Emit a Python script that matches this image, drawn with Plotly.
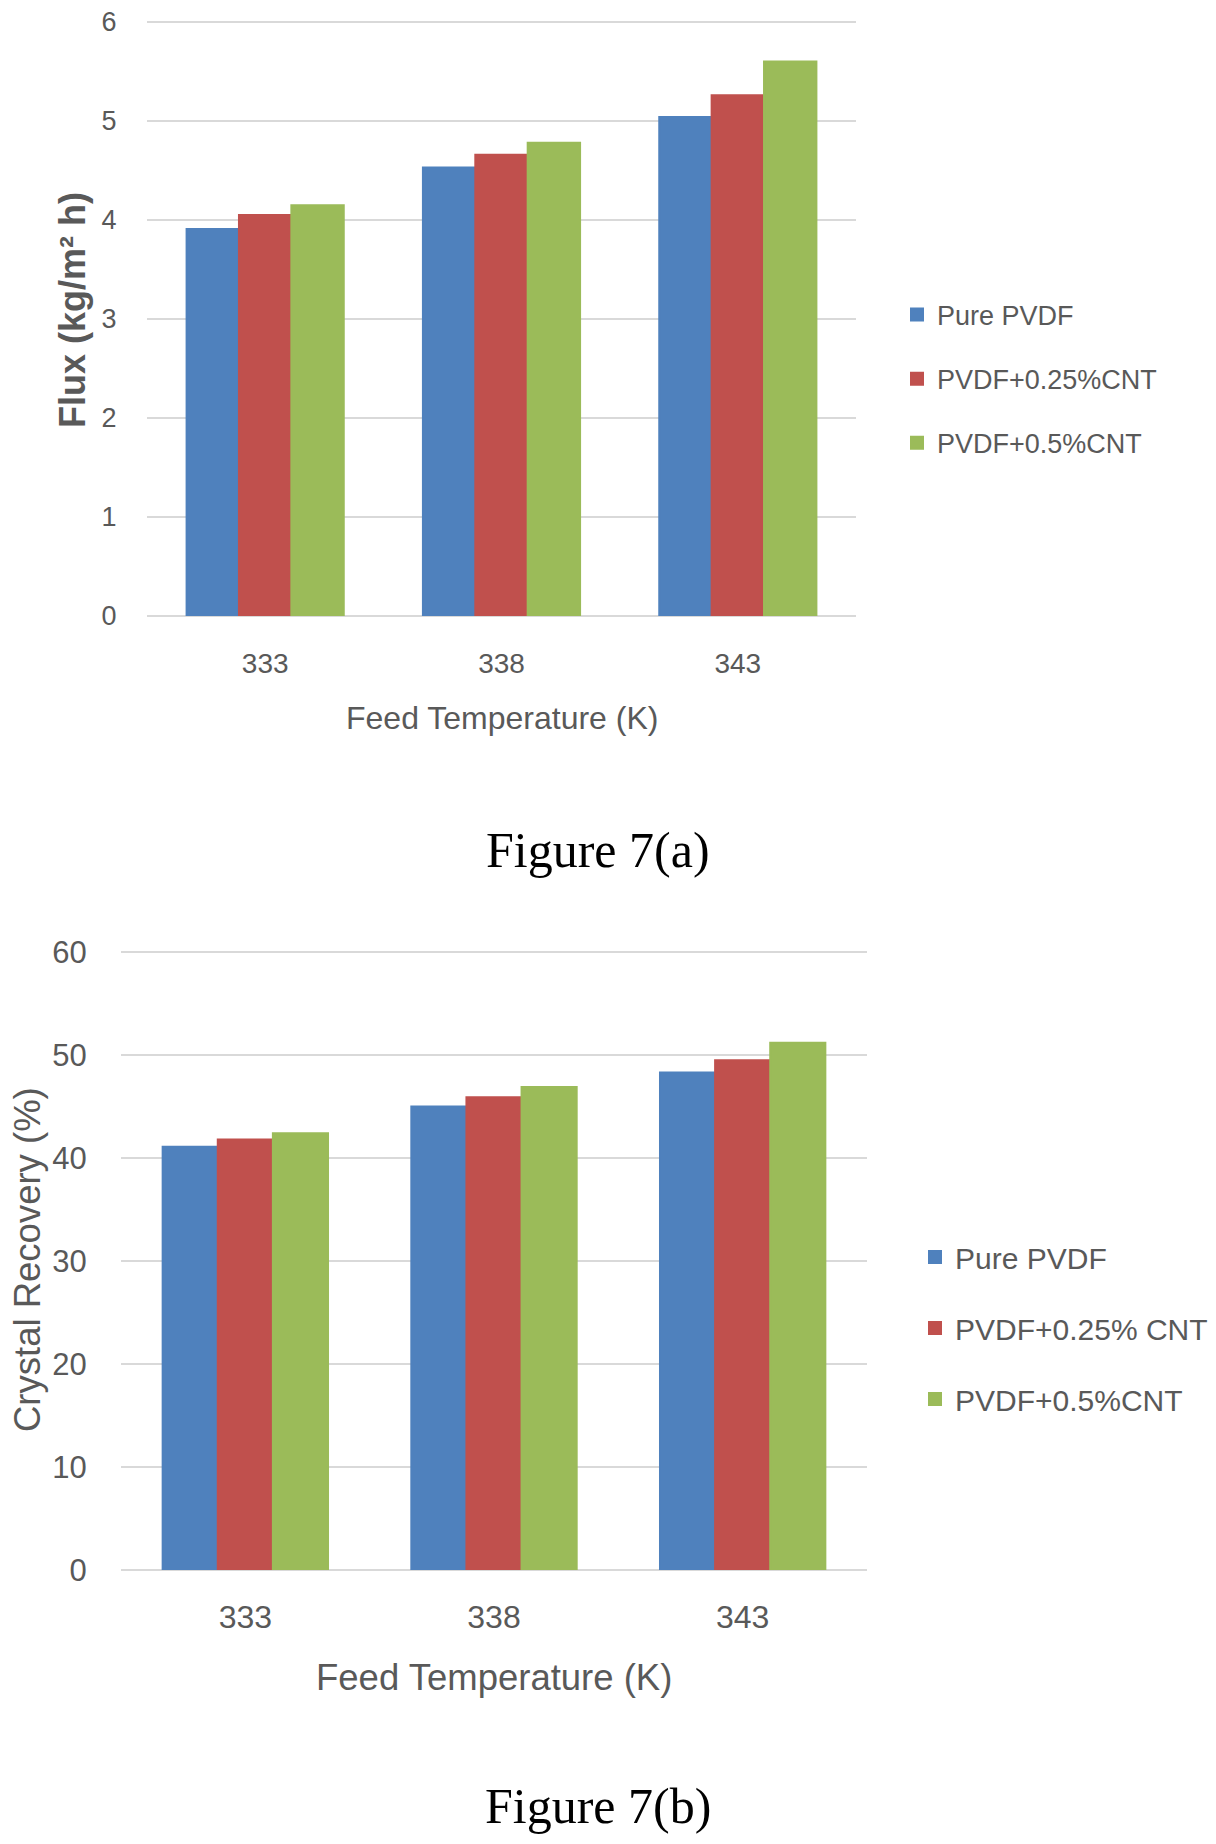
import plotly.graph_objects as go

# ---- data ----
temps = ["333", "338", "343"]
series_a = ["Pure PVDF", "PVDF+0.25%CNT", "PVDF+0.5%CNT"]
series_b = ["Pure PVDF", "PVDF+0.25% CNT", "PVDF+0.5%CNT"]
flux_pure = [3.91, 4.53, 5.04]
flux_025 = [4.05, 4.66, 5.26]
flux_05 = [4.15, 4.78, 5.60]
rec_pure = [41.1, 45.0, 48.3]
rec_025 = [41.8, 45.9, 49.5]
rec_05 = [42.4, 46.9, 51.2]
colors = ["#4F81BD", "#C0504D", "#9BBB59"]

# the page body has an 8px margin; the figure is sized to fit inside the window
OFF = 8
W, H = 1216 - 2 * OFF, 1844 - 2 * OFF
FONT = "Liberation Sans, Arial, sans-serif"
SERIF = "Liberation Serif, Times New Roman, serif"
GRAY = "#595959"
GRID = "#D9D9D9"

def px_x(v):
    return (v - OFF) / W

def px_y(v):
    return 1 - (v - OFF) / H

fig = go.Figure()
for name, vals, c in zip(series_a, [flux_pure, flux_025, flux_05], colors):
    fig.add_trace(go.Bar(x=temps, y=vals, name=name,
                         marker=dict(color=c, line=dict(width=2, color=c)),
                         xaxis="x", yaxis="y", legend="legend", legendgroup="a" + name))
for name, vals, c in zip(series_b, [rec_pure, rec_025, rec_05], colors):
    fig.add_trace(go.Bar(x=temps, y=vals, name=name,
                         marker=dict(color=c, line=dict(width=2, color=c)),
                         xaxis="x2", yaxis="y2", legend="legend2", legendgroup="b" + name))

common_x = dict(type="category", showline=False, showgrid=False, zeroline=False,
                ticks="outside", tickcolor="rgba(0,0,0,0)", automargin=False)
common_y = dict(showline=False, showgrid=True, gridcolor=GRID, gridwidth=2,
                zeroline=True, zerolinecolor=GRID, zerolinewidth=2,
                ticks="outside", tickcolor="rgba(0,0,0,0)", automargin=False,
                ticklabeloverflow="allow")

fig.update_layout(
    width=W, height=H,
    margin=dict(l=0, r=0, t=0, b=0, autoexpand=False),
    paper_bgcolor="white", plot_bgcolor="white",
    barmode="group", bargap=0.335, bargroupgap=0,
    font=dict(family=FONT, color=GRAY),
    xaxis=dict(common_x, domain=[px_x(147), px_x(856)], anchor="y",
               tickfont=dict(size=28, color=GRAY), ticklen=22),
    yaxis=dict(common_y, domain=[px_y(616), px_y(20)], anchor="x", range=[0, 6.02],
               tickvals=[0, 1, 2, 3, 4, 5, 6],
               tickfont=dict(size=27, color=GRAY), ticklen=24),
    xaxis2=dict(common_x, domain=[px_x(121), px_x(867)], anchor="y2",
                tickfont=dict(size=32, color=GRAY), ticklen=19),
    yaxis2=dict(common_y, domain=[px_y(1570), px_y(950)], anchor="x2", range=[0, 60.2],
                tickvals=[0, 10, 20, 30, 40, 50, 60],
                tickfont=dict(size=31, color=GRAY), ticklen=27),
    legend=dict(x=px_x(897), xanchor="left", y=px_y(379), yanchor="middle",
                font=dict(size=27, color=GRAY), tracegroupgap=26, bgcolor="rgba(0,0,0,0)"),
    legend2=dict(x=px_x(915), xanchor="left", y=px_y(1328), yanchor="middle",
                 font=dict(size=30, color=GRAY), tracegroupgap=29, bgcolor="rgba(0,0,0,0)"),
    showlegend=True,
)

annotations = [
    dict(text="Feed Temperature (K)", x=px_x(502), y=px_y(718), xref="paper", yref="paper",
         xanchor="center", yanchor="middle", showarrow=False, font=dict(size=32, color=GRAY)),
    dict(text="<b>Flux (kg/m² h)</b>", x=px_x(73), y=px_y(310), xref="paper", yref="paper",
         xanchor="center", yanchor="middle", textangle=-90, showarrow=False,
         font=dict(size=36, color=GRAY)),
    dict(text="Figure 7(a)", x=px_x(598), y=px_y(850), xref="paper", yref="paper",
         xanchor="center", yanchor="middle", showarrow=False,
         font=dict(size=50, color="black", family=SERIF)),
    dict(text="Feed Temperature (K)", x=px_x(494), y=px_y(1677), xref="paper", yref="paper",
         xanchor="center", yanchor="middle", showarrow=False, font=dict(size=36.5, color=GRAY)),
    dict(text="Crystal Recovery (%)", x=px_x(27), y=px_y(1260), xref="paper", yref="paper",
         xanchor="center", yanchor="middle", textangle=-90, showarrow=False,
         font=dict(size=36.5, color=GRAY)),
    dict(text="Figure 7(b)", x=px_x(598), y=0, xref="paper", yref="paper",
         xanchor="center", yanchor="bottom", showarrow=False,
         font=dict(size=50, color="black", family=SERIF)),
]
fig.update_layout(annotations=annotations)

fig.write_html("out.html")
